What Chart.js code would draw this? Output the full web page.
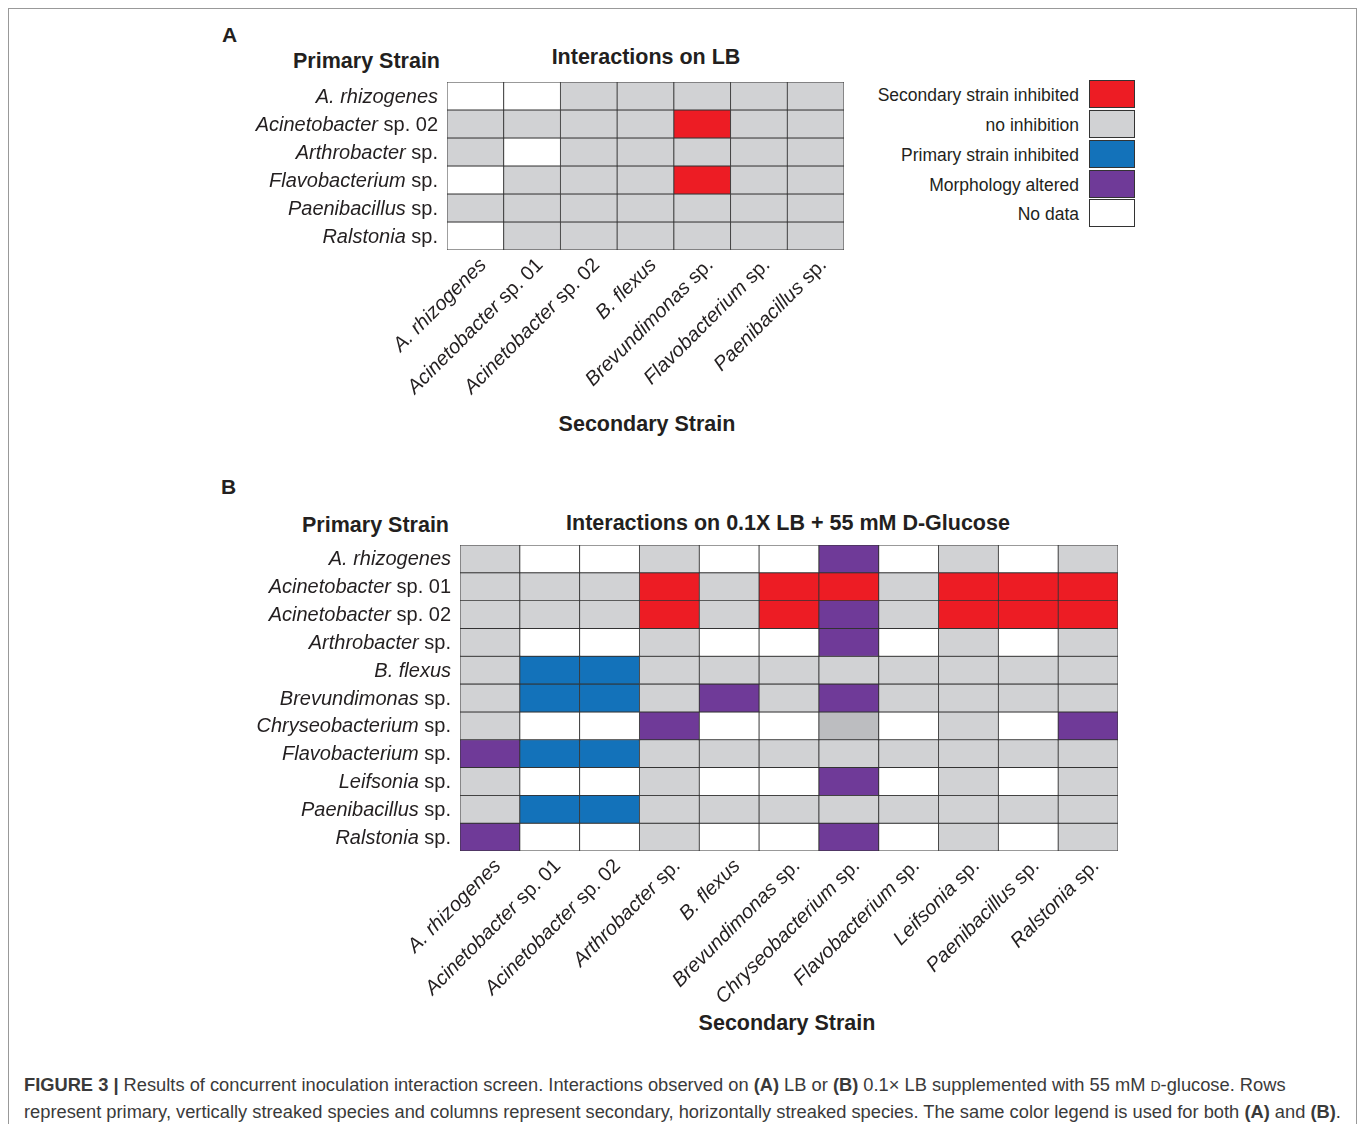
<!DOCTYPE html>
<html>
<head>
<meta charset="utf-8">
<script src="https://cdn.jsdelivr.net/npm/chart.js@4"></script>
<style>
  body { margin: 0; background: #fff; font-family: "Liberation Sans", Arial, sans-serif; color: #231f20; }
  #page { position: relative; width: 1358px; height: 1124px; overflow: hidden; }
  #frame { position: absolute; left: 8px; top: 8px; width: 1347px; height: 1200px; border: 1px solid #999; }
  .t { position: absolute; white-space: nowrap; line-height: 1; }
  .b { font-weight: bold; }
  canvas { position: absolute; }
  .leg { position: absolute; left: 860px; width: 275px; height: 29px; }
  .leg span { position: absolute; right: 56px; top: 5px; font-size: 17.5px; }
  .leg i { position: absolute; right: 0; top: 0; width: 46px; height: 28px; border: 1px solid #333; box-sizing: border-box; }
  #cap { position: absolute; left: 24px; top: 1072px; font-size: 18.3px; line-height: 25px; color: #3a3a3a; }
</style>
</head>
<body>
<div id="page">
  <div id="frame"></div>
  <div class="t b" style="left:222px;top:24px;font-size:21px">A</div>
  <div class="t b" style="left:221px;top:476px;font-size:21px">B</div>
  <div class="t b" style="right:918px;top:51px;font-size:21.5px">Primary Strain</div>
  <div class="t b" style="left:646px;top:47px;font-size:21.5px;transform:translateX(-50%)">Interactions on LB</div>
  <div class="t b" style="left:647px;top:414px;font-size:21.5px;transform:translateX(-50%)">Secondary Strain</div>
  <div class="t b" style="right:909px;top:515px;font-size:21.5px">Primary Strain</div>
  <div class="t b" style="left:788px;top:513px;font-size:21.5px;transform:translateX(-50%)">Interactions on 0.1X LB + 55 mM D-Glucose</div>
  <div class="t b" style="left:787px;top:1013px;font-size:21.5px;transform:translateX(-50%)">Secondary Strain</div>
  <div id="legend"></div>
  <canvas id="chartA"></canvas>
  <canvas id="chartB"></canvas>
  <div id="cap"><b>FIGURE 3 |</b> Results of concurrent inoculation interaction screen. Interactions observed on <b>(A)</b> LB or <b>(B)</b> 0.1× LB supplemented with 55 mM <span style="font-size:14px">D</span>-glucose. Rows<br>represent primary, vertically streaked species and columns represent secondary, horizontally streaked species. The same color legend is used for both <b>(A)</b> and <b>(B)</b>.</div>
</div>
<script>
// --- Données ---
// codes : 0 = pas de données, 1 = pas d'inhibition, 2 = secondaire inhibé,
//         3 = primaire inhibé, 4 = morphologie altérée, 5 = gris foncé
const legendLabels = ['Secondary strain inhibited', 'no inhibition', 'Primary strain inhibited', 'Morphology altered', 'No data'];
const legendCodes = [2, 1, 3, 4, 0];
const codeColors = ['#ffffff', '#d1d2d4', '#ed1c24', '#1372ba', '#6f3a98', '#bcbdc0'];

const rowsA = ['A. rhizogenes', 'Acinetobacter sp. 02', 'Arthrobacter sp.', 'Flavobacterium sp.', 'Paenibacillus sp.', 'Ralstonia sp.'];
const colsA = ['A. rhizogenes', 'Acinetobacter sp. 01', 'Acinetobacter sp. 02', 'B. flexus', 'Brevundimonas sp.', 'Flavobacterium sp.', 'Paenibacillus sp.'];
const gridA = [
  [0, 0, 1, 1, 1, 1, 1],
  [1, 1, 1, 1, 2, 1, 1],
  [1, 0, 1, 1, 1, 1, 1],
  [0, 1, 1, 1, 2, 1, 1],
  [1, 1, 1, 1, 1, 1, 1],
  [0, 1, 1, 1, 1, 1, 1]
];

const rowsB = ['A. rhizogenes', 'Acinetobacter sp. 01', 'Acinetobacter sp. 02', 'Arthrobacter sp.', 'B. flexus', 'Brevundimonas sp.',
  'Chryseobacterium sp.', 'Flavobacterium sp.', 'Leifsonia sp.', 'Paenibacillus sp.', 'Ralstonia sp.'];
const colsB = ['A. rhizogenes', 'Acinetobacter sp. 01', 'Acinetobacter sp. 02', 'Arthrobacter sp.', 'B. flexus', 'Brevundimonas sp.',
  'Chryseobacterium sp.', 'Flavobacterium sp.', 'Leifsonia sp.', 'Paenibacillus sp.', 'Ralstonia sp.'];
const gridB = [
  [1, 0, 0, 1, 0, 0, 4, 0, 1, 0, 1],
  [1, 1, 1, 2, 1, 2, 2, 1, 2, 2, 2],
  [1, 1, 1, 2, 1, 2, 4, 1, 2, 2, 2],
  [1, 0, 0, 1, 0, 0, 4, 0, 1, 0, 1],
  [1, 3, 3, 1, 1, 1, 1, 1, 1, 1, 1],
  [1, 3, 3, 1, 4, 1, 4, 1, 1, 1, 1],
  [1, 0, 0, 4, 0, 0, 5, 0, 1, 0, 4],
  [4, 3, 3, 1, 1, 1, 1, 1, 1, 1, 1],
  [1, 0, 0, 1, 0, 0, 4, 0, 1, 0, 1],
  [1, 3, 3, 1, 1, 1, 1, 1, 1, 1, 1],
  [4, 0, 0, 1, 0, 0, 4, 0, 1, 0, 1]
];

// --- Légende ---
const legend = document.getElementById('legend');
legendLabels.forEach((label, i) => {
  const div = document.createElement('div');
  div.className = 'leg';
  div.style.top = [80, 110, 140, 170, 199][i] + 'px';
  div.innerHTML = '<span>' + label + '</span><i style="background:' + codeColors[legendCodes[i]] + '"></i>';
  legend.appendChild(div);
});

// --- Libellés mixtes (genre en italique, « sp. » droit) ---
function splitName(name) {
  const k = name.indexOf(' sp.');
  if (k < 0) return [{ t: name, it: true }];
  return [{ t: name.slice(0, k), it: true }, { t: name.slice(k), it: false }];
}
const FONT = '"Liberation Sans", Arial, sans-serif';
function fontFor(it) { return (it ? 'italic ' : '') + '20px ' + FONT; }
function drawRightAligned(ctx, name, x, y) {
  const parts = splitName(name);
  let w = 0;
  parts.forEach(p => { ctx.font = fontFor(p.it); w += ctx.measureText(p.t).width; });
  let cx = x - w;
  parts.forEach(p => { ctx.font = fontFor(p.it); ctx.fillText(p.t, cx, y); cx += ctx.measureText(p.t).width; });
}

const labelPlugin = {
  id: 'strainLabels',
  afterDraw(chart, args, opts) {
    const ctx = chart.ctx, area = chart.chartArea;
    const xs = chart.scales.x, ys = chart.scales.y;
    ctx.save();
    ctx.fillStyle = '#231f20';
    ctx.textBaseline = 'middle';
    opts.rows.forEach((r, i) => drawRightAligned(ctx, r, area.left - 9, ys.getPixelForValue(i + 0.5) + 1));
    opts.cols.forEach((c, i) => {
      ctx.save();
      ctx.translate(xs.getPixelForValue(i) + 8, area.bottom + 12);
      ctx.rotate(-Math.PI * 0.25);
      drawRightAligned(ctx, c, 0, 0);
      ctx.restore();
    });
    ctx.restore();
  }
};

function heatmap(id, rows, cols, grid, box, pad) {
  const canvas = document.getElementById(id);
  canvas.style.left = box.left + 'px';
  canvas.style.top = box.top + 'px';
  canvas.style.width = box.width + 'px';
  canvas.style.height = box.height + 'px';
  canvas.width = box.width;
  canvas.height = box.height;
  const datasets = rows.map((r, ri) => ({
    label: r,
    data: cols.map(() => [ri, ri + 1]),
    backgroundColor: grid[ri].map(v => codeColors[v]),
    borderColor: '#333',
    borderWidth: 0.8,
    borderSkipped: false,
    barPercentage: 1,
    categoryPercentage: 1,
    grouped: false
  }));
  return new Chart(canvas, {
    type: 'bar',
    data: { labels: cols, datasets },
    options: {
      responsive: false,
      animation: false,
      layout: { padding: pad },
      plugins: { legend: { display: false }, tooltip: { enabled: false }, strainLabels: { rows, cols } },
      scales: {
        x: { display: false },
        y: { display: false, min: 0, max: rows.length, reverse: true }
      }
    },
    plugins: [labelPlugin]
  });
}

heatmap('chartA', rowsA, colsA, gridA, { left: 200, top: 70, width: 660, height: 380 },
  { left: 247, top: 12, right: 16, bottom: 200 });
heatmap('chartB', rowsB, colsB, gridB, { left: 200, top: 530, width: 940, height: 500 },
  { left: 260, top: 15, right: 22, bottom: 179 });
</script>
</body>
</html>
